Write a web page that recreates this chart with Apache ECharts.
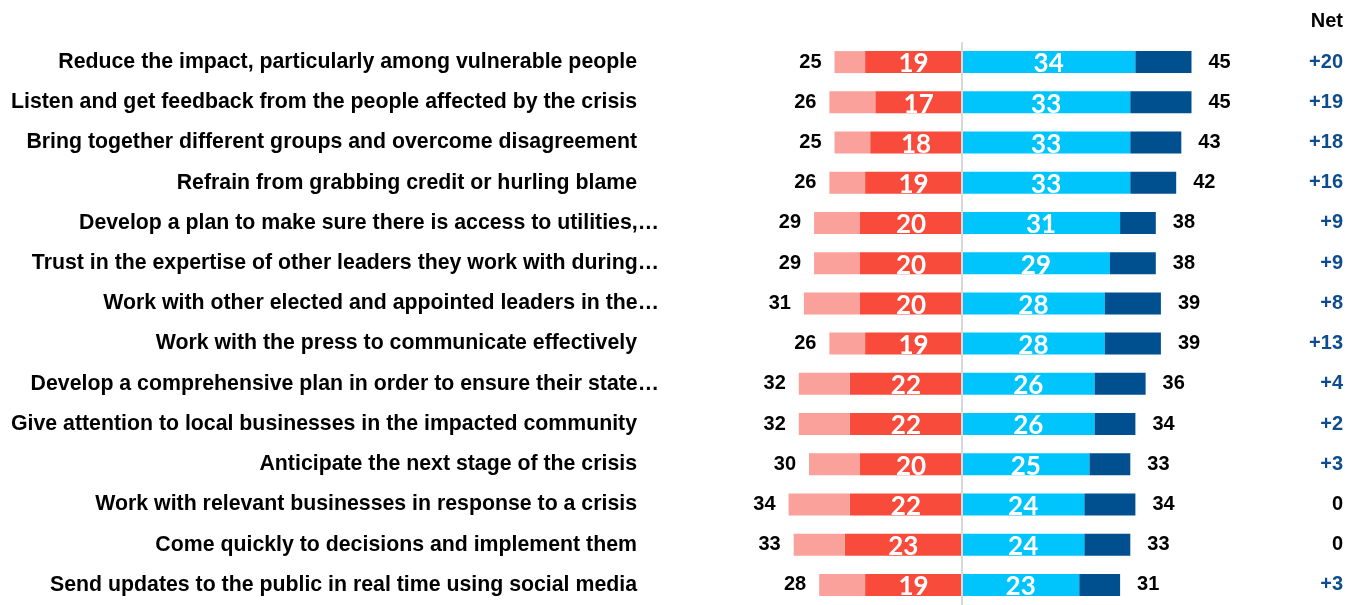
<!DOCTYPE html>
<html>
<head>
<meta charset="utf-8">
<script src="https://cdn.jsdelivr.net/npm/echarts@6/dist/echarts.min.js"></script>
<style>
  html, body { margin: 0; padding: 0; background: #fff; }
  #chart { width: 1358px; height: 605px; }
</style>
</head>
<body>
<div id="chart"></div>
<script>
const categories = [
  'Reduce the impact, particularly among vulnerable people',
  'Listen and get feedback from the people affected by the crisis',
  'Bring together different groups and overcome disagreement',
  'Refrain from grabbing credit or hurling blame',
  'Develop a plan to make sure there is access to utilities,…',
  'Trust in the expertise of other leaders they work with during…',
  'Work with other elected and appointed leaders in the…',
  'Work with the press to communicate effectively',
  'Develop a comprehensive plan in order to ensure their state…',
  'Give attention to local businesses in the impacted community',
  'Anticipate the next stage of the crisis',
  'Work with relevant businesses in response to a crisis',
  'Come quickly to decisions and implement them',
  'Send updates to the public in real time using social media'
]
// left side (negative): total and strong part
const leftTotal = [25, 26, 25, 26, 29, 29, 31, 26, 32, 32, 30, 34, 33, 28]
const leftStrong = [19, 17, 18, 19, 20, 20, 20, 19, 22, 22, 20, 22, 23, 19]
// right side (positive): strong part and total
const rightStrong = [34, 33, 33, 33, 31, 29, 28, 28, 26, 26, 25, 24, 24, 23]
const rightTotal = [45, 45, 43, 42, 38, 38, 39, 39, 36, 34, 33, 34, 33, 31]
const nets = ['+20', '+19', '+18', '+16', '+9', '+9', '+8', '+13', '+4', '+2', '+3', '0', '0', '+3']

const chart = echarts.init(document.getElementById('chart'))

const boldFont = 'Liberation Sans'
const innerLabel = {
  show: true,
  position: 'inside',
  color: '#fff',
  fontFamily: 'Lato',
  fontWeight: 'bold',
  fontSize: 26,
  offset: [0, 2]
}

chart.setOption({
  backgroundColor: '#fff',
  animation: false,
  title: {
    text: 'Net',
    right: 10,
    top: 6,
    textStyle: { fontFamily: boldFont, fontWeight: 'bold', fontSize: 20, color: '#000' }
  },
  grid: { left: 758, width: 459, top: 42, height: 570 },
  xAxis: {
    type: 'value',
    min: -40,
    max: 50,
    show: false
  },
  yAxis: [
    {
      type: 'category',
      data: categories,
      inverse: true,
      axisLine: { show: false },
      axisTick: { show: false },
      axisLabel: {
        margin: 99,
        formatter: (v) => v.endsWith('…') ? '{e|' + v + '}' : '{n|' + v + '}',
        rich: {
          e: { fontFamily: boldFont, fontWeight: 'bold', fontSize: 21.3, color: '#000' },
          n: { fontFamily: boldFont, fontWeight: 'bold', fontSize: 21.3, color: '#000', padding: [0, 22, 0, 0] }
        }
      }
    },
    {
      type: 'category',
      data: categories,
      inverse: true,
      position: 'right',
      axisLine: { show: false },
      axisTick: { show: false },
      axisLabel: {
        align: 'right',
        margin: 126,
        formatter: (v, i) => nets[i] === '0' ? '{z|0}' : '{p|' + nets[i] + '}',
        rich: {
          p: { fontFamily: boldFont, fontWeight: 'bold', fontSize: 20, color: '#0d4d8f' },
          z: { fontFamily: boldFont, fontWeight: 'bold', fontSize: 20, color: '#000' }
        }
      }
    }
  ],
  series: [
    {
      name: 'left strong',
      type: 'bar',
      stack: 'all',
      barWidth: 22,
      itemStyle: { color: '#f84b3c' },
      label: { ...innerLabel, formatter: (p) => leftStrong[p.dataIndex] },
      data: leftStrong.map((v) => -v),
      markLine: {
        silent: true,
        symbol: 'none',
        label: { show: false },
        lineStyle: { color: '#d9d9d9', width: 2, type: 'solid' },
        data: [{ xAxis: 0 }]
      }
    },
    {
      name: 'left other',
      type: 'bar',
      stack: 'all',
      barWidth: 22,
      itemStyle: { color: '#f9a19a' },
      label: {
        show: true,
        position: 'left',
        distance: 13,
        color: '#000',
        fontFamily: boldFont,
        fontWeight: 'bold',
        fontSize: 20,
        formatter: (p) => leftTotal[p.dataIndex]
      },
      data: leftTotal.map((v, i) => -(v - leftStrong[i]))
    },
    {
      name: 'right strong',
      type: 'bar',
      stack: 'all',
      barWidth: 22,
      itemStyle: { color: '#00c5fd' },
      label: { ...innerLabel, formatter: (p) => rightStrong[p.dataIndex] },
      data: rightStrong
    },
    {
      name: 'right other',
      type: 'bar',
      stack: 'all',
      barWidth: 22,
      itemStyle: { color: '#004f8f' },
      label: {
        show: true,
        position: 'right',
        distance: 17,
        color: '#000',
        fontFamily: boldFont,
        fontWeight: 'bold',
        fontSize: 20,
        formatter: (p) => rightTotal[p.dataIndex]
      },
      data: rightTotal.map((v, i) => v - rightStrong[i])
    }
  ]
})
</script>
</body>
</html>
